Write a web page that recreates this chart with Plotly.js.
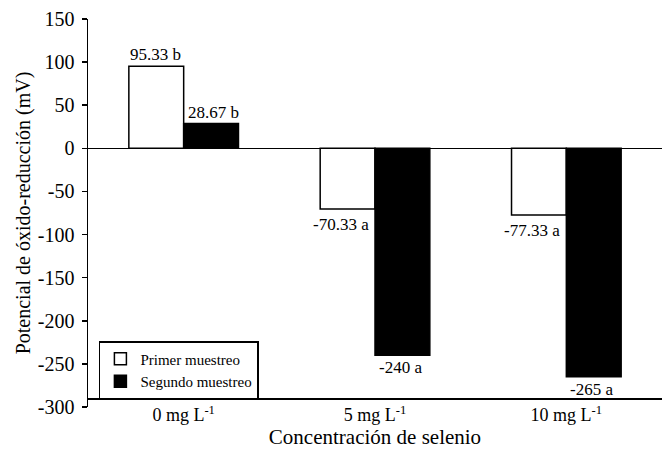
<!DOCTYPE html>
<html>
<head>
<meta charset="utf-8">
<script src="https://cdn.plot.ly/plotly-3.0.1.min.js"></script>
<style>html,body{margin:0;padding:0;background:#fff;}</style>
</head>
<body>
<div id="chart" style="width:662px;height:454px;"></div>
<script>
var categories = ["0 mg L<sup>-1</sup>", "5 mg L<sup>-1</sup>", "10 mg L<sup>-1</sup>"];
var primerValues = [95.33, -70.33, -77.33];
var segundoValues = [28.67, -240, -265];
var primerLabels = ["95.33 b", "-70.33 a", "-77.33 a"];
var segundoLabels = ["28.67 b", "-240 a", "-265 a"];
var tickValues = [150, 100, 50, 0, -50, -100, -150, -200, -250, -300];
var tickLabels = ["150", "100", "50", "0", "-50", "-100", "-150", "-200", "-250", "-300"];

var serif = "Liberation Serif";

var traces = [
  {
    type: "bar", name: "Primer muestreo", x: categories, y: primerValues,
    marker: {color: "#fff", line: {color: "#000", width: 1.5}},
    hoverinfo: "none"
  },
  {
    type: "bar", name: "Segundo muestreo", x: categories, y: segundoValues,
    marker: {color: "#000", line: {color: "#000", width: 1.5}},
    hoverinfo: "none"
  }
];

function labelAnnotations(values, labels, posShift, negShift, negY) {
  return values.map(function (v, i) {
    var pos = v >= 0;
    return {
      x: categories[i], y: v, xref: "x", yref: "y",
      text: labels[i], showarrow: false,
      xanchor: "center", yanchor: pos ? "bottom" : "top",
      xshift: pos ? posShift : negShift, yshift: pos ? 0 : negY,
      font: {family: serif, size: 17, color: "#000"}
    };
  });
}

var annotations = labelAnnotations(primerValues, primerLabels, -28, -34, -4)
  .concat(labelAnnotations(segundoValues, segundoLabels, 30, 25, -1));

var layout = {
  width: 662, height: 454,
  margin: {l: 88, r: 0, t: 19, b: 47},
  paper_bgcolor: "#fff", plot_bgcolor: "#fff",
  font: {family: serif, color: "#000"},
  barmode: "group", bargap: 0.427, bargroupgap: 0,
  showlegend: true,
  annotations: annotations,
  legend: {
    x: 0.019, y: 0.17, xanchor: "left", yanchor: "top",
    bordercolor: "#000", borderwidth: 1.5, bgcolor: "#fff",
    font: {family: serif, size: 15, color: "#000"},
    itemwidth: 30, tracegroupgap: 0,
    traceorder: "normal"
  },
  xaxis: {
    anchor: "free", position: 0.0224,
    showline: true, linecolor: "#000", linewidth: 1.5,
    ticks: "", showgrid: false, zeroline: false,
    tickfont: {family: serif, size: 18, color: "#000"},
    title: {text: "Concentración de selenio", font: {family: serif, size: 21, color: "#000"}, standoff: 4}
  },
  yaxis: {
    range: [-300, 150], autorange: false,
    tickvals: tickValues, ticktext: tickLabels,
    showline: true, linecolor: "#000", linewidth: 1.5,
    ticks: "outside", ticklen: 5, tickwidth: 1.5, tickcolor: "#000",
    ticklabelstandoff: 3,
    showgrid: false, zeroline: true, zerolinecolor: "#000", zerolinewidth: 1.5,
    tickfont: {family: serif, size: 20, color: "#000"},
    title: {text: "Potencial de óxido-reducción (mV)", font: {family: serif, size: 20, color: "#000"}, standoff: 2}
  }
};

Plotly.newPlot("chart", traces, layout, {displayModeBar: false, staticPlot: true});
</script>
</body>
</html>
